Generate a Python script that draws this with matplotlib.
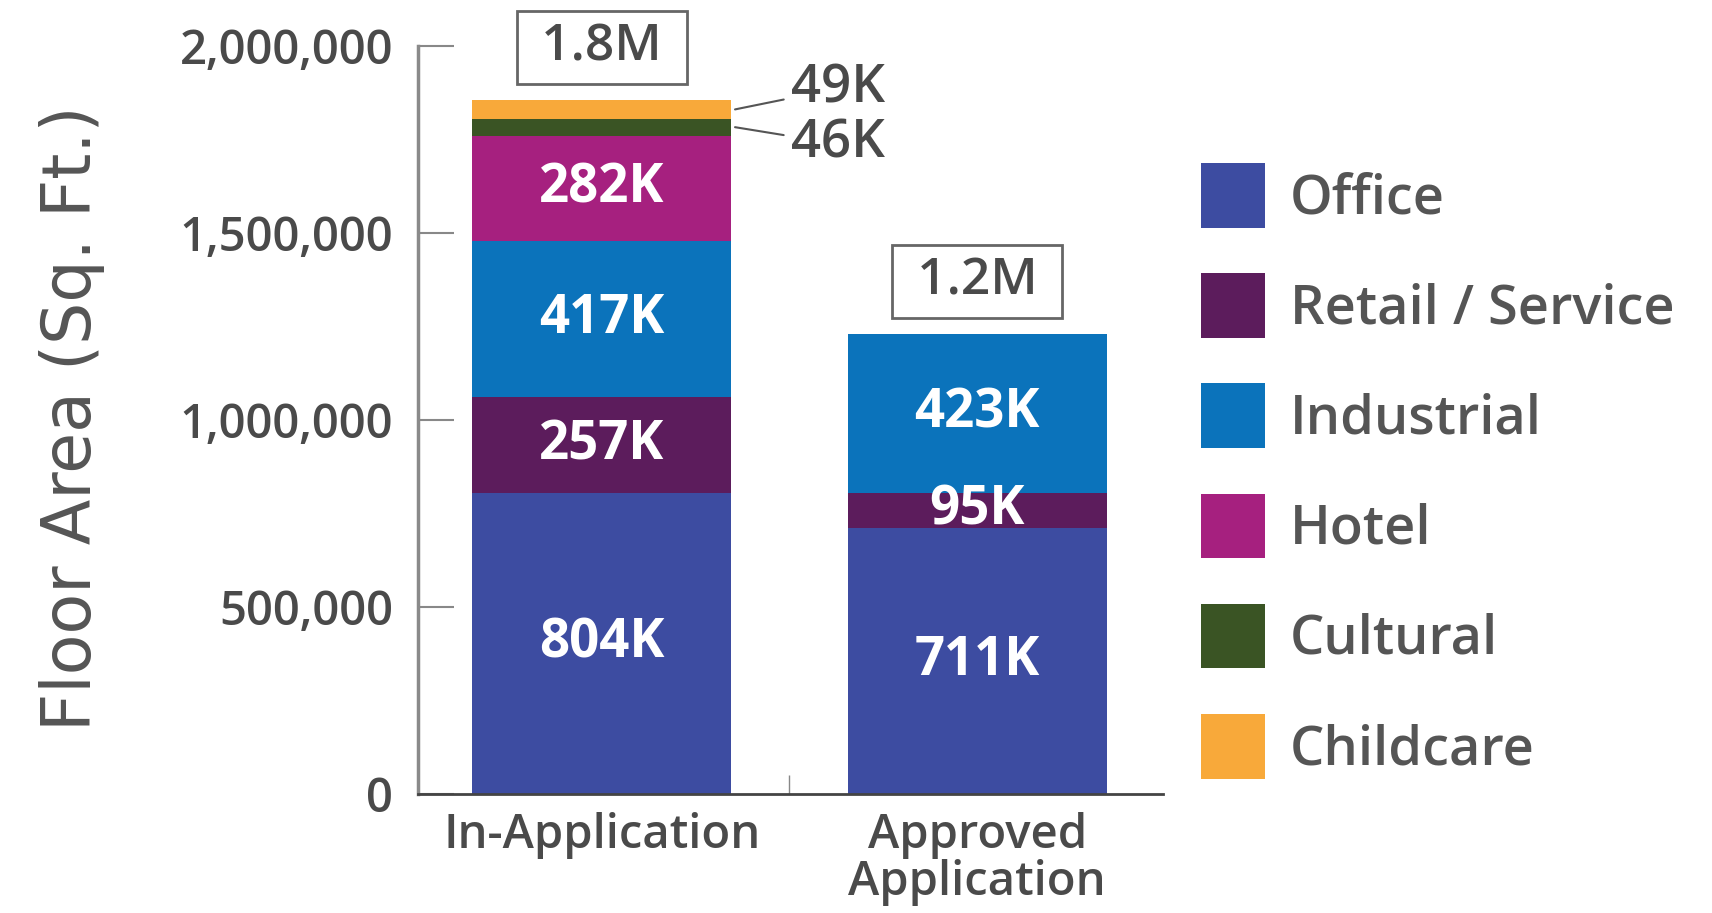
import matplotlib
matplotlib.use("Agg")
import matplotlib.pyplot as plt
from matplotlib.patches import Patch
import numpy as np

plt.rcParams['font.family'] = ['Open Sans', 'DejaVu Sans']

categories = ["In-Application", "Approved\nApplication"]
series = ["Office", "Retail / Service", "Industrial", "Hotel", "Cultural", "Childcare"]
values = {
    "Office": [804, 711],
    "Retail / Service": [257, 95],
    "Industrial": [417, 423],
    "Hotel": [282, 0],
    "Cultural": [46, 0],
    "Childcare": [49, 0],
}
colors = ["#3d4ca1", "#5c1c5c", "#0b73bb", "#a6207f", "#3a5424", "#f8a93a"]
totals_text = ["1.8M", "1.2M"]
inside_labels = ["Office", "Retail / Service", "Industrial", "Hotel"]
outside_labels = ["Childcare", "Cultural"]

text_col = "#4a4a4a"

fig = plt.figure(figsize=(17.12, 9.13), dpi=100)
ax = fig.add_axes([0.2442, 0.1303, 0.4352, 0.8193])

x = np.arange(len(categories))
bottom = np.zeros(len(categories))
for name, col in zip(series, colors):
    v = np.array(values[name]) * 1000
    ax.bar(x, v, bottom=bottom, width=0.69, color=col, label=name)
    if name in inside_labels:
        for i in range(len(x)):
            if v[i] > 0:
                ax.text(x[i], bottom[i] + v[i] / 2, f"{values[name][i]}K",
                        ha="center", va="center", color="white",
                        fontsize=38, fontweight="bold")
    bottom += v

# small segments labelled outside with leader lines
cum = np.cumsum([values[s][0] for s in series]) * 1000
seg_tops = dict(zip(series, cum))
offsets = {"Childcare": (40, 15), "Cultural": (40, -12)}
for name in outside_labels:
    mid = seg_tops[name] - values[name][0] * 1000 / 2
    dx, dy = offsets[name]
    ax.annotate(f"{values[name][0]}K", xy=(0 + 0.69 / 2 + 0.01, mid),
                xytext=(dx, dy), textcoords="offset points",
                ha="left", va="center", fontsize=38, fontweight="semibold",
                color=text_col,
                arrowprops=dict(arrowstyle="-", color="#555555", lw=1.5,
                                shrinkA=3, shrinkB=0))

for i, t in enumerate(totals_text):
    ax.annotate(f" {t} ", xy=(x[i], bottom[i]), xytext=(0, 38), textcoords="offset points",
                ha="center", va="center", fontsize=37, fontweight="semibold",
                color=text_col,
                bbox=dict(boxstyle="square,pad=0.22", fc="white", ec="#666666", lw=2))

ax.set_xlim(-0.489, 1.495)
ax.set_ylim(0, 2000000)
ax.set_yticks([0, 500000, 1000000, 1500000, 2000000])
ax.set_yticklabels(["0", "500,000", "1,000,000", "1,500,000", "2,000,000"])
ax.set_xticks(x)
ax.set_xticklabels(categories, linespacing=1.0)
ax.set_xticks([0.5], minor=True)
ax.tick_params(axis="y", direction="in", length=26, width=1.5, color="#888888",
               labelsize=34, labelcolor=text_col, pad=18)
ax.tick_params(axis="x", which="major", length=0, labelsize=34, labelcolor=text_col, pad=13)
ax.tick_params(axis="x", which="minor", direction="in", length=14, width=1, color="#888888")
for lab in ax.get_yticklabels() + ax.get_xticklabels():
    lab.set_fontweight("semibold")

ax.spines["top"].set_visible(False)
ax.spines["right"].set_visible(False)
ax.spines["left"].set_color("#8a8a8a")
ax.spines["left"].set_linewidth(2.5)
ax.spines["bottom"].set_color("#444444")
ax.spines["bottom"].set_linewidth(2)

fig.text(0.042, 0.542, "Floor Area (Sq. Ft.)", rotation=90, ha="center", va="center",
         fontsize=48, color="#555555", family=["Liberation Sans Narrow", "DejaVu Sans"])

handles = [Patch(facecolor=c, edgecolor="none") for c in colors]
fig.legend(handles, series, loc="upper left", bbox_to_anchor=(1201 / 1712, 1 - 163 / 913),
           frameon=False, handlelength=1.19, handleheight=1.46,
           handletextpad=0.45, labelspacing=0.84, borderpad=0, borderaxespad=0,
           labelcolor="#555555", prop={"weight": "semibold", "size": 39})

fig.savefig("out.png", dpi=100)
